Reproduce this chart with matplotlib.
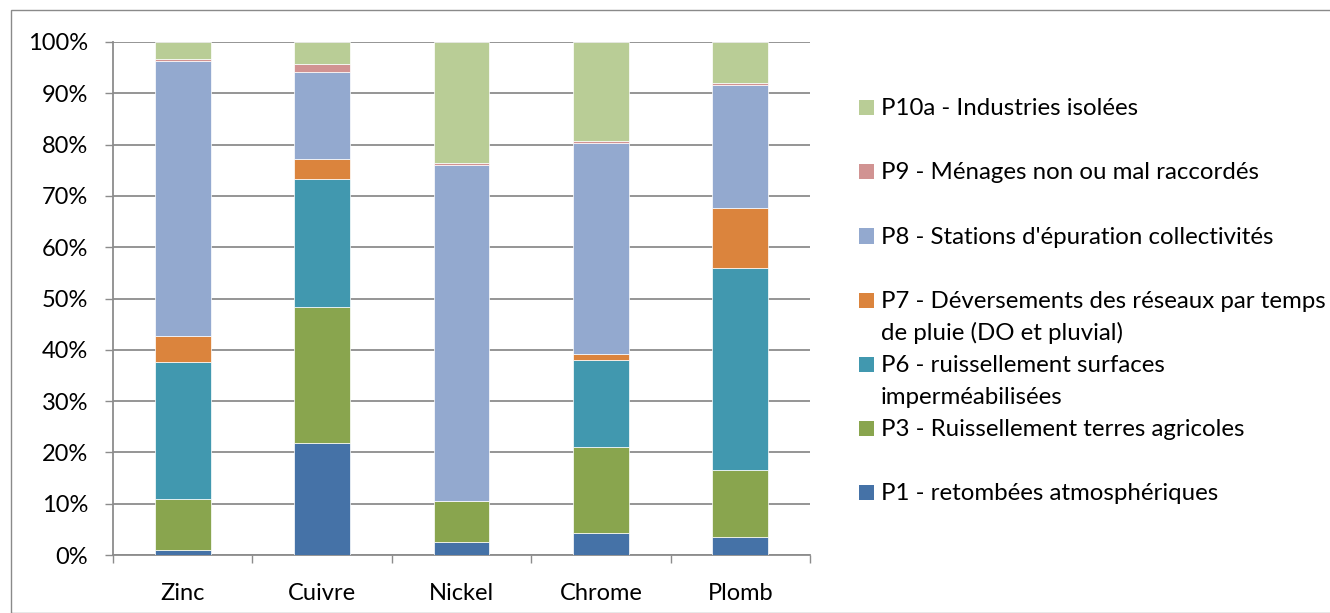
import matplotlib
matplotlib.use("Agg")
import matplotlib.pyplot as plt
from matplotlib.patches import Rectangle
import numpy as np

categories = ["Zinc", "Cuivre", "Nickel", "Chrome", "Plomb"]
series_names = [
    "P1 - retombées atmosphériques",
    "P3 - Ruissellement terres agricoles",
    "P6 - ruissellement surfaces\nimperméabilisées",
    "P7 - Déversements des réseaux par temps\nde pluie (DO et pluvial)",
    "P8 - Stations d'épuration collectivités",
    "P9 - Ménages non ou mal raccordés",
    "P10a - Industries isolées",
]
p1 = [0.9, 21.8, 2.6, 4.3, 3.6]
p3 = [10.1, 26.5, 7.9, 16.8, 12.9]
p6 = [26.7, 25.0, 0.0, 17.0, 39.4]
p7 = [5.0, 3.8, 0.0, 1.0, 11.7]
p8 = [53.6, 17.1, 65.5, 41.2, 24.0]
p9 = [0.4, 1.6, 0.4, 0.4, 0.5]
p10a = [3.3, 4.2, 23.6, 19.3, 7.9]
series_values = [p1, p3, p6, p7, p8, p9, p10a]
colors = ["#4572A7", "#89A54E", "#4198AF", "#DB843D", "#93A9CF", "#D19392", "#B9CD96"]
yticks = [0, 10, 20, 30, 40, 50, 60, 70, 80, 90, 100]

FONT = "Lato"
FS = 17
FS_LEG = 17.25
W, H = 1330, 613
fig = plt.figure(figsize=(W / 100, H / 100), dpi=100)
fig.patch.set_facecolor("white")

# outer border
fig.patches.append(Rectangle((11 / W, 0), 1.2, 1 - 10 / H, transform=fig.transFigure,
                             fill=False, edgecolor="#8a8a8a", linewidth=1.0, zorder=0))

ax = fig.add_axes([113 / W, 1 - 555 / H, (810 - 113) / W, (555 - 42) / H])
x = np.arange(len(categories))
bottom = np.zeros(len(categories))
for vals, col in zip(series_values, colors):
    v = np.array(vals)
    ax.bar(x, v, 0.4, bottom=bottom, color=col, edgecolor="white", linewidth=0.5, zorder=3)
    bottom += v

ax.set_xlim(-0.5, len(categories) - 0.5)
ax.set_ylim(0, 100)
ax.set_yticks(yticks)
ax.set_yticklabels([f"{t}%" for t in yticks], fontfamily=FONT, fontsize=FS)
ax.yaxis.grid(True, color="#8c8c8c", linewidth=1.3, zorder=0)
ax.set_axisbelow(True)
ax.tick_params(axis="y", length=6, width=1.0, color="#8c8c8c", direction="out", pad=12)

ax.set_xticks(x)
ax.set_xticklabels(categories, fontfamily=FONT, fontsize=FS)
ax.tick_params(axis="x", which="major", length=0, pad=20)
ax.set_xticks(np.arange(len(categories) + 1) - 0.5, minor=True)
ax.tick_params(axis="x", which="minor", length=6, width=1.0, color="#8c8c8c", direction="out")

for side in ["top", "right"]:
    ax.spines[side].set_visible(False)
for side in ["left", "bottom"]:
    ax.spines[side].set_color("#8c8c8c")
    ax.spines[side].set_linewidth(1.3)

# legend (manual, Excel-like spacing)
for i, (name, col) in enumerate(zip(series_names[::-1], colors[::-1])):
    yc = 108 + 64 * i
    fig.patches.append(Rectangle((859 / W, 1 - (yc + 7.5) / H), 15 / W, 15 / H,
                                 transform=fig.transFigure, facecolor=col, edgecolor="none"))
    for j, line in enumerate(name.split("\n")):
        fig.text(881 / W, 1 - (yc + 7.5 + 32 * j) / H, line, fontfamily=FONT, fontsize=FS_LEG,
                 va="baseline", ha="left", color="black")

fig.savefig("out.png", dpi=100)
